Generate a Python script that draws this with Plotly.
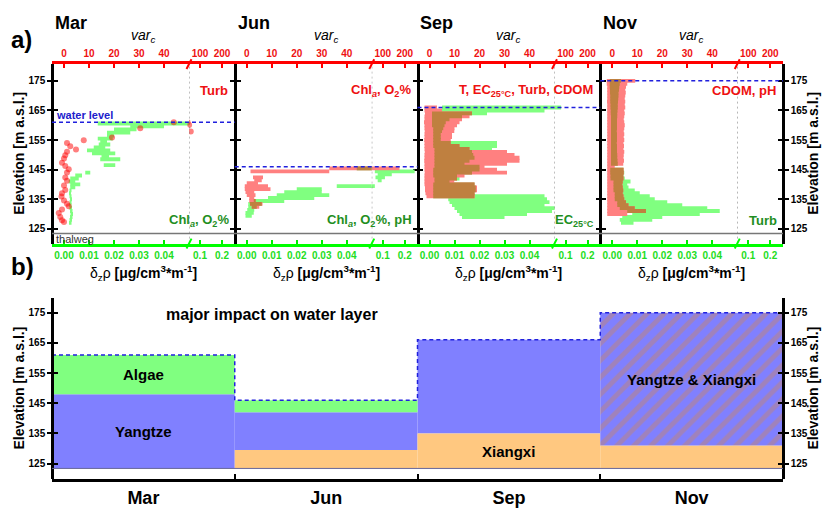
import plotly.graph_objects as go

W, H = 822, 508

# ---------------- data ----------------
MONTHS = ["Mar", "Jun", "Sep", "Nov"]
ELEV_TICKS = [125, 135, 145, 155, 165, 175]
VAR_TICKS_LOW = [0, 10, 20, 30, 40]
VAR_TICKS_HIGH = [100, 200]
GRAD_TICKS_LOW = [0.00, 0.01, 0.02, 0.03, 0.04]
GRAD_TICKS_HIGH = [0.1, 0.2]
VAR_BREAK = 50
GRAD_BREAK = 0.05
WATER_LEVEL = [161, 146, 166, 175]
THALWEG = 123.4

TOP_LABELS = ["Turb", "Chl<sub><i>a</i></sub>, O<sub>2</sub>%",
              "T, EC<sub>25°C</sub>, Turb, CDOM", "CDOM, pH"]
BOTTOM_LABELS = ["Chl<sub><i>a</i></sub>, O<sub>2</sub>%",
                 "Chl<sub><i>a</i></sub>, O<sub>2</sub>%, pH",
                 "EC<sub>25°C</sub>", "Turb"]

# March: density gradient (green bars) and var_c (red dots)
MAR_GRAD_ELEV = [160.6, 159.6, 158.6, 157.5, 156.5, 155.5, 154.5, 153.5, 152.5, 151.5, 150.5,
                 149.5, 148.5, 146.5, 144.0, 143.0, 142.0, 141.0, 140.0, 139.0, 138.0, 137.0,
                 136.0, 135.0, 134.0, 133.0, 132.0, 131.0, 130.0, 129.0, 128.0, 127.0]
MAR_GRAD_LO = [0.0135, 0.0265, 0.0200, 0.0172, 0.0172, 0.0135, 0.0145, 0.0139, 0.0119, 0.0092, 0.0112,
               0.0150, 0.0145, 0.0159, 0.0085, 0.0045, 0.0025, 0.0019, 0.0025, 0.0025, 0.0022, 0.0020,
               0.0022, 0.0024, 0.0022, 0.0020, 0.0022, 0.0024, 0.0026, 0.0024, 0.0022, 0.0020]
MAR_GRAD_HI = [0.0510, 0.0400, 0.0290, 0.0265, 0.0200, 0.0195, 0.0172, 0.0185, 0.0165, 0.0185, 0.0205,
               0.0180, 0.0225, 0.0205, 0.0105, 0.0072, 0.0059, 0.0045, 0.0065, 0.0045, 0.0030, 0.0028,
               0.0030, 0.0032, 0.0030, 0.0030, 0.0032, 0.0034, 0.0036, 0.0034, 0.0032, 0.0030]
MAR_VAR_ELEV = [161.0, 160.1, 157.9, 159.0, 155.9, 154.9, 154.0, 152.9, 151.8, 151.0, 149.9, 148.8,
                147.3, 146.2, 145.1, 144.0, 142.3, 141.2, 139.6, 138.1, 137.0, 135.9, 134.6, 133.5,
                132.6, 131.5, 130.3, 129.0, 127.9, 127.3]
MAR_VAR = [43.9, 50.5, 58.0, 30.5, 19.2, 7.9, 1.2, 2.5, 4.8, 1.2, 0.5, 0.0,
           -0.8, 0.5, 1.9, 1.2, 0.5, 1.2, 0.0, 0.5, -0.8, -1.0, 0.0, 1.2,
           1.9, -0.8, -2.1, -1.5, -0.8, 0.0]

# June
JUN_VAR_ELEV = [145.4, 144.4, 142.4, 141.4, 140.4, 139.4, 138.4, 137.4, 136.4, 135.4, 134.4, 133.4, 132.4]
JUN_VAR_LO = [33.0, 1.5, 2.5, 3.0, 0.0, -0.8, -0.8, -0.5, 0.0, 1.0, 1.0, 1.3, 2.0]
JUN_VAR_HI = [176.0, 33.0, 6.5, 6.0, 4.5, 8.5, 9.5, 3.0, 3.5, 3.0, 3.5, 6.3, 5.0]
JUN_GRAD_ELEV = [145.4, 144.4, 143.4, 142.4, 141.4, 139.4, 138.4, 137.4, 136.4, 135.4, 134.4, 133.4,
                 132.4, 131.4, 130.4, 129.4]
JUN_GRAD_LO = [0.044, 0.064, 0.077, 0.067, 0.077, 0.036, 0.020, 0.015, 0.012, 0.0085, 0.003, 0.0006,
               0.0006, 0.0002, -0.0005, -0.0005]
JUN_GRAD_HI = [0.051, 0.245, 0.141, 0.110, 0.095, 0.064, 0.030, 0.030, 0.033, 0.027, 0.015, 0.006,
               0.004, 0.003, 0.0028, 0.0020]

# September
SEP_VAR_ELEV = [166, 165, 164, 163, 162, 161, 160, 159, 158, 157, 156, 155, 154, 153, 152, 151,
                150, 149, 148, 147, 146, 145, 144, 143, 142, 141, 140, 139, 138, 137, 136]
SEP_VAR_LO = [-2.0, -2.0, -1.8, -2.0, -2.0, -2.2, -2.0, -2.0, -1.9, -2.0, -2.0, -2.1, -2.0, -2.0, -2.0, -1.9,
              -2.0, -2.0, -2.1, -2.0, -2.0, -2.0, -1.9, -2.0, -2.0, -2.0, -2.0, -1.8, -1.8, -1.6, -1.2]
SEP_VAR_HI = [3.0, 5.0, 17.0, 16.0, 13.0, 12.0, 11.0, 10.0, 9.9, 9.0, 9.0, 8.5, 8.5, 12.0, 16.0, 31.0,
              34.0, 36.0, 36.0, 31.0, 22.0, 27.0, 31.0, 14.0, 11.0, 9.9, 18.0, 19.0, 19.0, 18.0, 18.0]
SEP_GRAD_ELEV = [166, 165, 164, 163, 162, 161, 160, 159, 158, 157, 156, 155, 154, 153, 152, 151, 150,
                 149, 148, 147, 146, 145, 144, 143, 142, 141, 140, 139, 138, 137, 136, 135, 134, 133,
                 132, 131, 130, 129]
SEP_GRAD_LO = [0.0050, 0.0050, 0.0010, 0.0010, 0.0010, 0.0010, 0.0010, 0.0015, 0.0015, 0.0015, 0.0015,
               0.0015, 0.0015, 0.0015, 0.0020, 0.0020, 0.0020, 0.0020, 0.0020, 0.0020, 0.0020, 0.0015,
               0.0015, 0.0015, 0.0020, 0.0020, 0.0015, 0.0015, 0.0015, 0.0015, 0.0015, 0.0075, 0.0080,
               0.0090, 0.0100, 0.0110, 0.0120, 0.0130]
SEP_GRAD_HI = [0.0800, 0.0460, 0.0230, 0.0130, 0.0080, 0.0065, 0.0060, 0.0055, 0.0050, 0.0045, 0.0045,
               0.0045, 0.0270, 0.0270, 0.0250, 0.0170, 0.0175, 0.0180, 0.0160, 0.0140, 0.0200, 0.0200,
               0.0170, 0.0110, 0.0120, 0.0080, 0.0180, 0.0185, 0.0185, 0.0180, 0.0460, 0.0470, 0.0480,
               0.0460, 0.0505, 0.0490, 0.0390, 0.0300]

# November
NOV_VAR_ELEV = [175, 174, 173, 172, 171, 170, 169, 168, 167, 166, 165, 164, 163, 162, 161, 160, 159,
                158, 157, 156, 155, 154, 153, 152, 151, 150, 149, 148, 147, 146, 145, 144, 143, 142,
                141, 140, 139, 138, 137, 136, 135, 134, 133, 132, 131, 130]
NOV_VAR_LO = [-2.2, -2.2, -2.0, -2.0, -2.0, -2.0, -2.0, -2.1, -2.0, -2.0, -2.0, -2.0, -2.0, -2.0, -2.0,
              -2.0, -2.0, -2.0, -2.0, -2.0, -2.0, -2.0, -2.0, -2.0, -2.0, -2.0, -2.0, -2.0, -2.0, -2.0,
              -2.0, -2.0, -2.0, -2.0, -2.0, -2.0, -2.0, -2.0, -2.0, -2.0, -2.0, -2.0, -2.0, -2.0, -2.0,
              -2.0]
NOV_VAR_HI = [9.2, 6.0, 5.5, 5.2, 5.4, 5.2, 5.0, 5.2, 5.0, 5.2, 4.8, 5.0, 4.8, 4.6, 4.8, 5.0, 4.8,
              4.6, 4.8, 4.6, 4.8, 4.5, 4.7, 4.5, 4.8, 4.6, 4.5, 4.7, 4.4, 1.0, 4.5, 4.6, 4.4, 4.5,
              4.2, 4.0, 4.2, 4.4, 4.2, 4.5, 4.8, 5.5, 6.5, 9.0, 13.5, 6.0]
NOV_GRAD_ELEV = [175, 174, 173, 172, 171, 170, 169, 168, 167, 166, 165, 164, 163, 162, 161, 160, 159,
                 158, 157, 156, 155, 154, 153, 152, 151, 150, 149, 148, 147, 145, 144, 143, 142, 141,
                 140, 139, 138, 137, 136, 135, 134, 133, 132, 131, 130, 129, 128, 127]
NOV_GRAD_LO = [-0.0010, -0.0010, -0.0010, -0.0009, -0.0009, -0.0008, -0.0008, -0.0008, -0.0007, -0.0007,
               -0.0006, -0.0006, -0.0005, -0.0005, -0.0005, -0.0005, -0.0005, -0.0005, -0.0005, -0.0005,
               -0.0005, -0.0005, -0.0005, -0.0005, -0.0005, -0.0005, -0.0005, -0.0005, -0.0005, -0.0008,
               -0.0008, -0.0007, -0.0007, 0.0005, 0.0005, 0.0005, 0.0005, 0.0010, 0.0010, 0.0010,
               0.0020, 0.0020, 0.0030, 0.0060, 0.0080, 0.0040, 0.0030, 0.0035]
NOV_GRAD_HI = [0.0035, 0.0030, 0.0028, 0.0027, 0.0025, 0.0025, 0.0024, 0.0023, 0.0022, 0.0022, 0.0021,
               0.0020, 0.0020, 0.0019, 0.0019, 0.0019, 0.0019, 0.0018, 0.0019, 0.0019, 0.0019, 0.0018,
               0.0019, 0.0019, 0.0019, 0.0020, 0.0020, 0.0021, 0.0022, 0.0045, 0.0048, 0.0045, 0.0050,
               0.0073, 0.0060, 0.0065, 0.0090, 0.0110, 0.0150, 0.0170, 0.0220, 0.0280, 0.0380, 0.0430,
               0.0350, 0.0200, 0.0160, 0.0085]

VAR_DATA = [None,
            (JUN_VAR_ELEV, JUN_VAR_LO, JUN_VAR_HI),
            (SEP_VAR_ELEV, SEP_VAR_LO, SEP_VAR_HI),
            (NOV_VAR_ELEV, NOV_VAR_LO, NOV_VAR_HI)]
GRAD_DATA = [(MAR_GRAD_ELEV, MAR_GRAD_LO, MAR_GRAD_HI),
             (JUN_GRAD_ELEV, JUN_GRAD_LO, JUN_GRAD_HI),
             (SEP_GRAD_ELEV, SEP_GRAD_LO, SEP_GRAD_HI),
             (NOV_GRAD_ELEV, NOV_GRAD_LO, NOV_GRAD_HI)]

# panel b: water-layer impact
YANGTZE_MONTH = ["Mar", "Jun", "Sep"]
YANGTZE_BOTTOM = [123.5, 129.5, 135.0]
YANGTZE_TOP = [148.0, 142.0, 166.0]
ALGAE_MONTH = ["Mar", "Jun"]
ALGAE_BOTTOM = [148.0, 142.0]
ALGAE_TOP = [161.0, 146.0]
XIANGXI_MONTH = ["Jun", "Sep", "Nov"]
XIANGXI_BOTTOM = [123.5, 123.5, 123.5]
XIANGXI_TOP = [129.5, 135.0, 131.0]
MIXED_MONTH = ["Nov"]
MIXED_BOTTOM = [131.0]
MIXED_TOP = [175.0]

# ---------------- layout geometry ----------------
L_PX, R_PX = 52, 783
PW = (R_PX - L_PX) / 4
SEG_PX = 137
LOW_PX = 2.5     # px per var unit, low segment
HIGH_PX = 0.22   # px per var unit, high segment
A_TOP, A_BOT = 65, 247
B_TOP, B_BOT = 302, 486
A_RANGE = [120.0, 120.0 + (A_BOT - A_TOP) / 3.0]
B_RANGE = [119.8, 179.9]
BIN_H = 1.3      # drawn thickness of one 1-m profile bin (slight overlap hides seams)

PINK = "#ff8080"
LGREEN = "#80ff80"
BROWN = "#bf8040"
RED_DOT = "rgba(255,0,0,0.5)"
FONT = "Liberation Sans, Arial, sans-serif"


def fx(p):
    return p / W


def fy(p):
    return 1 - p / H


def xname(n):
    return "xaxis" if n == 1 else f"xaxis{n}"


def xref(n):
    return "x" if n == 1 else f"x{n}"


def yname(n):
    return "yaxis" if n == 1 else f"yaxis{n}"


def yref(n):
    return "y" if n == 1 else f"y{n}"


var_ranges = [[-12 / LOW_PX, VAR_BREAK], [VAR_BREAK, VAR_BREAK + (PW - SEG_PX) / HIGH_PX]]
grad_ranges = [[v / 1000 for v in r] for r in var_ranges]

fig = go.Figure()
lay = {}
n = 0
panels = []
for i in range(4):
    left = L_PX + i * PW
    doms = [(left, left + SEG_PX), (left + SEG_PX, left + PW)]
    segs = []
    for s in range(2):
        n += 1
        nb = n
        n += 1
        nt = n
        gv = GRAD_TICKS_LOW if s == 0 else GRAD_TICKS_HIGH
        gt = [f"{v:.2f}" for v in gv] if s == 0 else [f"{v:.1f}" for v in gv]
        vv = VAR_TICKS_LOW if s == 0 else VAR_TICKS_HIGH
        lay[xname(nb)] = dict(
            domain=[fx(doms[s][0]), fx(doms[s][1])], range=grad_ranges[s], anchor="y",
            side="bottom", showline=True, linecolor="#00ff00", linewidth=3,
            ticks="inside", ticklen=4, tickwidth=2, tickcolor="#00ee00",
            tickvals=gv, ticktext=gt,
            tickfont=dict(family=FONT, size=10, color="#22dd22", weight="bold"),
            showgrid=False, zeroline=False, fixedrange=True)
        lay[xname(nt)] = dict(
            domain=[fx(doms[s][0]), fx(doms[s][1])], range=var_ranges[s], anchor="y",
            overlaying=xref(nb), side="top", showline=True, linecolor="#ff0000", linewidth=3,
            ticks="inside", ticklen=4, tickwidth=2, tickcolor="#ff0000",
            tickvals=vv, ticktext=[str(v) for v in vv],
            tickfont=dict(family=FONT, size=10, color="#ee1111", weight="bold"),
            showgrid=False, zeroline=False, fixedrange=True)
        segs.append((nb, nt))
    panels.append(segs)

# panel a y axes
ny = 1
ytick = dict(family=FONT, size=10, color="black", weight="bold")
base_y = dict(range=A_RANGE, domain=[fy(A_BOT), fy(A_TOP)], showgrid=False, zeroline=False,
              showline=True, linecolor="black", linewidth=2.5, tickvals=ELEV_TICKS,
              ticklen=4, tickwidth=2, tickcolor="black", tickfont=ytick, fixedrange=True)
lay["yaxis"] = dict(base_y, anchor="free", position=fx(L_PX), side="left", ticks="outside")
extra_y_a = []
for k in range(5):
    pos = fx(L_PX + k * PW)
    side = "right" if k == 4 else "left"
    for tk in ("outside", "inside"):
        if k == 0 and tk == "outside":
            continue
        ny += 1
        lay[yname(ny)] = dict(base_y, anchor="free", position=pos, side=side, ticks=tk,
                              overlaying="y",
                              showticklabels=(k == 4 and tk == "outside"))
        extra_y_a.append(ny)

# panel b axes
n += 1
xb = n
n += 1
xb2 = n
ny += 1
yb = ny
base_yb = dict(range=B_RANGE, domain=[fy(B_BOT), fy(B_TOP)], showgrid=False, zeroline=False,
               showline=True, linecolor="black", linewidth=2.5, tickvals=ELEV_TICKS,
               ticklen=4, tickwidth=2, tickcolor="black", tickfont=ytick, fixedrange=True)
lay[yname(yb)] = dict(base_yb, anchor="free", position=fx(L_PX), side="left", ticks="outside")
extra_y_b = []
for pos, side, tk, lab in ((L_PX, "left", "inside", False), (R_PX, "right", "outside", True),
                           (R_PX, "right", "inside", False)):
    ny += 1
    lay[yname(ny)] = dict(base_yb, anchor="free", position=fx(pos), side=side, ticks=tk,
                          overlaying=yref(yb), showticklabels=lab)
    extra_y_b.append(ny)
lay[xname(xb)] = dict(domain=[fx(L_PX), fx(R_PX)], range=[-0.5, 3.5], anchor=yref(yb),
                      showline=True, linecolor="black", linewidth=2.5, ticks="",
                      tickvals=list(range(len(MONTHS))), ticktext=MONTHS,
                      tickfont=dict(family=FONT, size=18, color="black", weight="bold"),
                      showgrid=False, zeroline=False, fixedrange=True)
lay[xname(xb2)] = dict(domain=[fx(L_PX), fx(R_PX)], range=[-0.5, 3.5], anchor=yref(yb),
                       overlaying=xref(xb), side="bottom", showline=False, ticks="inside",
                       ticklen=5, tickwidth=2, tickcolor="black",
                       tickvals=[k + 0.5 for k in range(len(MONTHS) - 1)],
                       showticklabels=False, showgrid=False, zeroline=False, fixedrange=True)


# ---------------- traces ----------------
def hbars(elev, lo, hi, color, axis):
    if not elev:
        return
    fig.add_trace(go.Bar(orientation="h", y=elev, x=[h - l for l, h in zip(lo, hi)], base=lo,
                         width=BIN_H, marker=dict(color=color, line=dict(width=0)),
                         xaxis=xref(axis), yaxis="y", showlegend=False, hoverinfo="skip"))


def overlap(var, grad):
    """Intersection of the var_c bar and the gradient bar at the same elevation
    (both axes share the same pixel scale: 1 var_c unit == 0.001 gradient unit)."""
    oe, ol, oh = [], [], []
    for er, rl, rh in zip(*var):
        for eg, gl, gh in zip(*grad):
            if abs(er - eg) < 0.05:
                lo = max(rl, gl * 1000)
                hi = min(rh, gh * 1000)
                if hi > lo:
                    oe.append(er)
                    ol.append(lo)
                    oh.append(hi)
    return oe, ol, oh


for i in range(4):
    for (nb, nt) in panels[i]:
        e, lo, hi = GRAD_DATA[i]
        hbars(e, lo, hi, LGREEN, nb)
for i in range(4):
    for (nb, nt) in panels[i]:
        if VAR_DATA[i] is None:
            fig.add_trace(go.Scatter(x=MAR_VAR, y=MAR_VAR_ELEV, mode="markers",
                                     marker=dict(size=6, color=RED_DOT, line=dict(width=0)),
                                     xaxis=xref(nt), yaxis="y", showlegend=False,
                                     hoverinfo="skip"))
        else:
            e, lo, hi = VAR_DATA[i]
            hbars(e, lo, hi, PINK, nt)
            oe, ol, oh = overlap(VAR_DATA[i], GRAD_DATA[i])
            hbars(oe, ol, oh, BROWN, nt)

for k in extra_y_a:
    fig.add_trace(go.Scatter(x=[None], y=[None], xaxis="x", yaxis=yref(k), showlegend=False,
                             hoverinfo="skip"))

mi = {m: k for k, m in enumerate(MONTHS)}


def vbars(months, bottom, top, marker):
    fig.add_trace(go.Bar(x=[mi[m] for m in months], y=[t - b for b, t in zip(bottom, top)],
                         base=bottom, width=1.0, marker=marker, xaxis=xref(xb), yaxis=yref(yb),
                         showlegend=False, hoverinfo="skip"))


vbars(YANGTZE_MONTH, YANGTZE_BOTTOM, YANGTZE_TOP, dict(color="#8080ff", line=dict(width=0)))
vbars(ALGAE_MONTH, ALGAE_BOTTOM, ALGAE_TOP, dict(color="#80ff80", line=dict(width=0)))
vbars(XIANGXI_MONTH, XIANGXI_BOTTOM, XIANGXI_TOP, dict(color="#ffc880", line=dict(width=0)))
vbars(MIXED_MONTH, MIXED_BOTTOM, MIXED_TOP,
      dict(color="#8080ff", line=dict(width=0),
           pattern=dict(shape="/", fgcolor="#c08478", bgcolor="#8080ff", size=12,
                        solidity=0.4)))
fig.add_trace(go.Scatter(x=[k - 0.5 for k in range(len(MONTHS) + 1)],
                         y=WATER_LEVEL + [WATER_LEVEL[-1]], mode="lines",
                         line=dict(shape="hv", dash="4px,3px", color="#2020dd", width=1.5),
                         xaxis=xref(xb), yaxis=yref(yb), showlegend=False, hoverinfo="skip"))
fig.add_trace(go.Scatter(x=[None], y=[None], xaxis=xref(xb2), yaxis=yref(yb), showlegend=False,
                         hoverinfo="skip"))
for k in extra_y_b:
    fig.add_trace(go.Scatter(x=[None], y=[None], xaxis=xref(xb), yaxis=yref(k),
                             showlegend=False, hoverinfo="skip"))

# ---------------- shapes ----------------
shapes = []
for i in range(4):
    x0 = fx(L_PX + i * PW)
    x1 = fx(L_PX + (i + 1) * PW)
    shapes.append(dict(type="line", xref="paper", yref="y", x0=x0, x1=x1,
                       y0=WATER_LEVEL[i], y1=WATER_LEVEL[i],
                       line=dict(color="#2020dd", width=1.5, dash="4px,3px")))
    nb2 = panels[i][1][0]
    shapes.append(dict(type="line", xref=xref(nb2), yref="y domain", x0=GRAD_BREAK,
                       x1=GRAD_BREAK, y0=0, y1=1,
                       line=dict(color="#808080", width=1, dash="2px,3px")))
    bx = L_PX + i * PW + SEG_PX
    for yy, col in ((A_TOP, "#ff0000"), (A_BOT, "#00ff00")):
        shapes.append(dict(type="line", xref="paper", yref="paper", x0=fx(bx - 2.5),
                           x1=fx(bx + 2.5), y0=fy(yy + 5), y1=fy(yy - 5),
                           line=dict(color=col, width=2)))
shapes.append(dict(type="line", xref="paper", yref="y", x0=fx(L_PX), x1=fx(R_PX),
                   y0=THALWEG, y1=THALWEG, line=dict(color="#777777", width=1.5)))
shapes.append(dict(type="line", xref="paper", yref=yref(yb), x0=fx(L_PX), x1=fx(R_PX),
                   y0=THALWEG, y1=THALWEG, line=dict(color="#666699", width=1)))

# ---------------- annotations ----------------
ann = []


def text(x, y, t, size, color="black", xanchor="center", angle=0, **kw):
    ann.append(dict(x=x, y=y, xref=kw.get("xr", "paper"), yref=kw.get("yr", "paper"), text=t,
                    showarrow=False, xanchor=xanchor, yanchor="middle", textangle=angle,
                    font=dict(family=FONT, size=size, color=color)))


text(fx(9), fy(40), "<b>a)</b>", 24, xanchor="left")
text(fx(9), fy(270), "<b>b)</b>", 24, xanchor="left")
for i, m in enumerate(MONTHS):
    left = L_PX + i * PW
    right = left + PW
    text(fx(left + 1), fy(23), f"<b>{m}</b>", 18, xanchor="left")
    text(fx(left + 77), fy(37), "<i>var<sub>c</sub></i>", 14, xanchor="left")
    text(fx(right - 5), fy(92), f"<b>{TOP_LABELS[i]}</b>", 13, color="#ee1111", xanchor="right")
    text(fx(right - 4), fy(224), f"<b>{BOTTOM_LABELS[i]}</b>", 13, color="#1f8f1f",
         xanchor="right")
    text(fx(left + PW / 2), fy(277), "δ<sub>z</sub>ρ <b>[μg/cm<sup>3</sup>*m<sup>-1</sup>]</b>",
         14)
text(fx(54), fy(117), "<b>water level</b>", 11, color="#2020cc", xanchor="left")
text(fx(54), fy(242), "thalweg", 11, color="#333333", xanchor="left")
for yc in ((A_TOP + A_BOT) / 2, (B_TOP + B_BOT) / 2):
    text(fx(19), fy(yc), "<b>Elevation [m a.s.l.]</b>", 14, angle=-90)
    text(fx(813), fy(yc), "<b>Elevation [m a.s.l.]</b>", 14, angle=-90)
text(fx(272), fy(319), "<b>major impact on water layer</b>", 16)
text(0, 154.5, "<b>Algae</b>", 15, xr=xref(xb), yr=yref(yb))
text(0, 135.6, "<b>Yangtze</b>", 15, xr=xref(xb), yr=yref(yb))
text(2, 129.0, "<b>Xiangxi</b>", 15, xr=xref(xb), yr=yref(yb))
text(3, 152.8, "<b>Yangtze &amp; Xiangxi</b>", 15, xr=xref(xb), yr=yref(yb))

fig.update_layout(width=W, height=H, autosize=False, margin=dict(l=0, r=0, t=0, b=0),
                  paper_bgcolor="white", plot_bgcolor="rgba(0,0,0,0)", barmode="overlay",
                  showlegend=False, shapes=shapes, annotations=ann,
                  font=dict(family=FONT), **lay)
fig.write_html("out.html")
